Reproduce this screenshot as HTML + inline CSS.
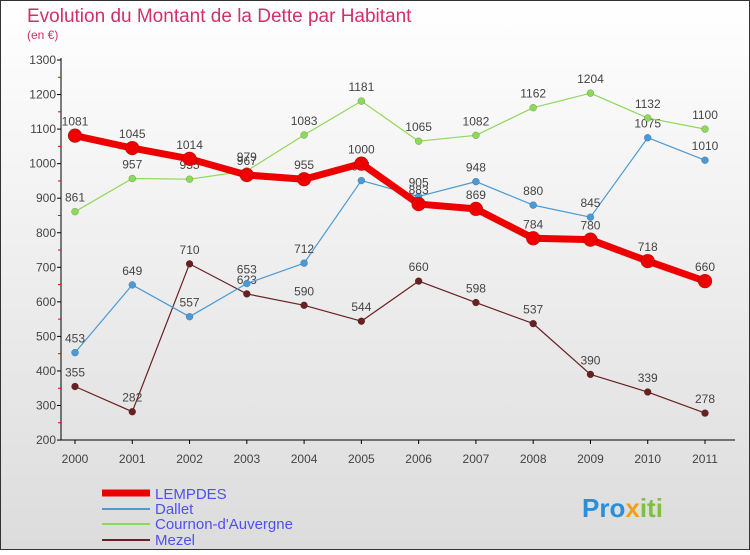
<!DOCTYPE html>
<html><head><meta charset="utf-8"><style>
body{margin:0;width:750px;height:550px;overflow:hidden;font-family:"Liberation Sans",sans-serif;}
</style></head><body>
<svg width="750" height="550" xmlns="http://www.w3.org/2000/svg">
<defs><linearGradient id="bg" x1="0" y1="0" x2="0" y2="1"><stop offset="0" stop-color="#ffffff"/><stop offset="1" stop-color="#dcdcdc"/></linearGradient></defs>
<rect x="0.5" y="0.5" width="749" height="549" fill="url(#bg)" stroke="#333"/>
<text x="27" y="22" font-size="19" fill="#d0306a">Evolution du Montant de la Dette par Habitant</text>
<text x="27" y="39" font-size="12" fill="#d0306a">(en €)</text>
<g id="axes"></g><g id="series"></g>
<g>
<line x1="102" y1="493" x2="150" y2="493" stroke="#ee0000" stroke-width="7"/>
<text x="155" y="499" font-size="15" fill="#5050ee">LEMPDES</text>
<line x1="102" y1="509" x2="150" y2="509" stroke="#4a9ad6" stroke-width="2"/>
<text x="155" y="514" font-size="15" fill="#5050ee">Dallet</text>
<line x1="102" y1="524" x2="150" y2="524" stroke="#8ed85a" stroke-width="2"/>
<text x="155" y="529" font-size="15" fill="#5050ee">Cournon-d'Auvergne</text>
<line x1="102" y1="540" x2="150" y2="540" stroke="#6a2020" stroke-width="2"/>
<text x="155" y="545" font-size="15" fill="#5050ee">Mezel</text>
</g>
<text x="582" y="517" font-size="26" font-weight="bold" fill="#2a8fd8">Pro<tspan fill="#f0a020">x</tspan><tspan fill="#80c040">iti</tspan></text>
</svg>
<script>
const years=["2000","2001","2002","2003","2004","2005","2006","2007","2008","2009","2010","2011"];
const yTicks=[200,300,400,500,600,700,800,900,1000,1100,1200,1300];
const lempdes=[1081,1045,1014,967,955,1000,883,869,784,780,718,660];
const dallet=[453,649,557,653,712,951,905,948,880,845,1075,1010];
const cournon=[861,957,955,979,1083,1181,1065,1082,1162,1204,1132,1100];
const mezel=[355,282,710,623,590,544,660,598,537,390,339,278];
const NS="http://www.w3.org/2000/svg";
const X=i=>75+i*(630/11);
const Y=v=>60+(1300-v)*0.3455;
function mk(tag,attrs,parent){const e=document.createElementNS(NS,tag);for(const k in attrs)e.setAttribute(k,attrs[k]);parent.appendChild(e);return e;}
const ax=document.getElementById('axes');
let a=mk('line',{x1:61,y1:58,x2:61,y2:440,stroke:'#000'},ax);


a=mk('line',{x1:61,y1:440,x2:735,y2:440,stroke:'#000'},ax);


yTicks.forEach(v=>{
 mk('line',{x1:57,x2:61,y1:Y(v),y2:Y(v),stroke:'#000'},ax);
 if(v<1300)mk('line',{x1:58,x2:61,y1:Y(v+50),y2:Y(v+50),stroke:'#e00'},ax);
 const t=mk('text',{x:56,y:Y(v)+4,'font-size':12,'text-anchor':'end',fill:'#444'},ax);t.textContent=v;
 
 
});
years.forEach((y,i)=>{
 mk('line',{x1:X(i),x2:X(i),y1:440,y2:444,stroke:'#000'},ax);
 const t=mk('text',{x:X(i),y:463,'font-size':12,'text-anchor':'middle',fill:'#444'},ax);t.textContent=y;
 
 
});
const sg=document.getElementById('series');
function series(d,color,w,r,name){
 const g=mk('g',{},sg);
 
 
 mk('polyline',{points:d.map((v,i)=>X(i)+','+Y(v)).join(' '),fill:'none',stroke:color,'stroke-width':w,'stroke-linejoin':'round'},g);
 d.forEach((v,i)=>{
  const c=mk('circle',{cx:X(i),cy:Y(v),r:r,fill:color,stroke:'rgba(0,0,0,0.3)','stroke-width':0.5},g);
  
  
  const t=mk('text',{x:X(i),y:Y(v)-10,'font-size':12,'text-anchor':'middle',fill:'#444'},g);t.textContent=v;
  
  
 });
}
series(mezel,'#6a2020',1.2,3.5,'series-mezel');
series(dallet,'#4a9ad6',1.2,3.5,'series-dallet');
series(cournon,'#8ed85a',1.2,3.5,'series-cournon');
series(lempdes,'#ee0000',7,7,'series-lempdes');
</script>
</body></html>
